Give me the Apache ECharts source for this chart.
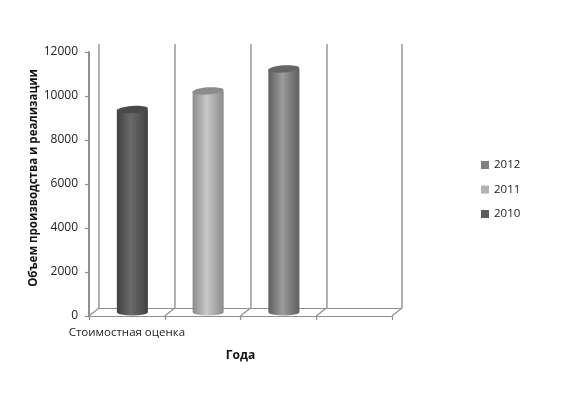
<!DOCTYPE html>
<html><head><meta charset="utf-8">
<style>html,body{margin:0;padding:0;background:#fff}#c{width:561px;height:414px}</style>
<script src="https://cdn.jsdelivr.net/npm/echarts@6/dist/echarts.min.js"></script>
</head><body><div id="c"></div>
<script>
const categories = ['Стоимостная оценка', '', '', ''];
const years = ['2010', '2011', '2012'];
const values2010 = [9200];
const values2011 = [10050];
const values2012 = [11050];
const tones = {
  '2010': {edge: '#414141', mid: '#6a6a6a', top: '#4a4a4a', key: '#5c5c5c'},
  '2011': {edge: '#8a8a8a', mid: '#c9c9c9', top: '#8c8c8c', key: '#b2b2b2'},
  '2012': {edge: '#5e5e5e', mid: '#9c9c9c', top: '#666666', key: '#808080'}
};
const font = '"Open Sans", "Noto Sans", sans-serif';
const chart = echarts.init(document.getElementById('c'), null, {renderer: 'canvas'});
const L = 89, W = 303, H = 264, T = 52, DX = 10, DY = 8;
const lineGrey = '#8f8f8f';

function cylinder(name, idx) {
  return {
    name, type: 'custom', xAxisIndex: 2, yAxisIndex: 2,
    data: [[idx, ({'2010': values2010, '2011': values2011, '2012': values2012})[name][0]]],
    itemStyle: {color: tones[name].key},
    renderItem(p, api) {
      const t = api.coord([api.value(0), api.value(1)]);
      const b = api.coord([api.value(0), 0]);
      const w = api.size([1, 0])[0] * 0.41, rx = w / 2, ry = 3.6;
      const c = tones[name];
      const fill = {type: 'linear', x: 0, y: 0, x2: 1, y2: 0, colorStops: [
        {offset: 0, color: c.edge}, {offset: 0.45, color: c.mid}, {offset: 1, color: c.edge}]};
      const body = 'M' + (t[0] - rx) + ' ' + t[1] + 'L' + (b[0] - rx) + ' ' + b[1] +
        'A' + rx + ' ' + ry + ' 0 0 0 ' + (b[0] + rx) + ' ' + b[1] +
        'L' + (t[0] + rx) + ' ' + t[1] + 'Z';
      return {type: 'group', children: [
        {type: 'path', shape: {pathData: body, layout: 'center', x: t[0] - rx, y: t[1], width: w, height: b[1] - t[1] + ry}, style: {fill}},
        {type: 'ellipse', x: t[0], y: t[1], rotation: 0.07, shape: {cx: 0, cy: 0, rx, ry}, style: {fill: c.top}}
      ]};
    }
  };
}

const floor = {
  type: 'custom', silent: true, xAxisIndex: 0, yAxisIndex: 0, z: 1,
  data: [[0, 0], [1, 0], [2, 0], [3, 0]], legendHoverLink: false,
  renderItem(p, api) {
    const c = api.coord([api.value(0), 0]), s = api.size([1, 0])[0];
    const seg = x => ({type: 'line', shape: {x1: x, y1: c[1], x2: x + DX, y2: c[1] - DY}, style: {stroke: lineGrey, lineWidth: 1.2}});
    const kids = [seg(c[0] - s / 2)];
    if (api.value(0) === categories.length - 1) kids.push(seg(c[0] + s / 2));
    return {type: 'group', children: kids};
  }
};

chart.setOption({
  backgroundColor: '#fff', animation: false,
  legend: {
    orient: 'vertical', left: 476, top: 152, itemWidth: 8, itemHeight: 8, itemGap: 8.5, icon: 'rect',
    textStyle: {fontFamily: font, fontSize: 11.5, color: '#222', lineHeight: 16},
    data: years.slice().reverse().map(y => ({name: y, icon: 'rect', itemStyle: {color: tones[y].key}}))
  },
  grid: [
    {left: L, top: T, width: W, height: H},
    {left: L + DX, top: T - DY, width: W, height: H},
    {left: L + 5.5, top: T - 4, width: W, height: H}
  ],
  xAxis: [
    {type: 'category', gridIndex: 0, data: categories,
     name: 'Года', nameLocation: 'middle', nameGap: 34,
     nameTextStyle: {fontFamily: font, fontSize: 12, fontWeight: 'bold', color: '#111'},
     axisLine: {lineStyle: {color: lineGrey, width: 1.2}},
     axisTick: {show: true, length: 4, lineStyle: {color: lineGrey, width: 1.2}},
     axisLabel: {fontFamily: font, fontSize: 11.5, color: '#222', margin: 11, interval: 0}},
    {type: 'category', gridIndex: 1, data: categories,
     axisLine: {lineStyle: {color: lineGrey, width: 1.2}}, axisTick: {show: false}, axisLabel: {show: false},
     splitLine: {show: true, interval: 0, lineStyle: {color: '#999', width: 1.5}}},
    {type: 'category', gridIndex: 2, data: categories, show: false}
  ],
  yAxis: [
    {type: 'value', gridIndex: 0, min: 0, max: 12000, interval: 2000,
     name: 'Объем производства и реализации', nameLocation: 'middle', nameGap: 49, nameMoveOverlap: false,
     nameTextStyle: {fontFamily: font, fontSize: 11.5, fontWeight: 'bold', color: '#111', padding: [0, 0, 0, 12]},
     axisLine: {show: true, lineStyle: {color: lineGrey, width: 2}},
     axisTick: {show: true, length: 4, lineStyle: {color: lineGrey, width: 1.2}},
     axisLabel: {fontFamily: font, fontSize: 12, color: '#222', margin: 11, formatter: v => String(v)},
     splitLine: {show: false}},
    {type: 'value', gridIndex: 1, min: 0, max: 12000, interval: 2000, show: false, splitLine: {show: false}},
    {type: 'value', gridIndex: 2, min: 0, max: 12000, interval: 2000, show: false, splitLine: {show: false}}
  ],
  series: [floor].concat(years.map(cylinder))
});
</script></body></html>
